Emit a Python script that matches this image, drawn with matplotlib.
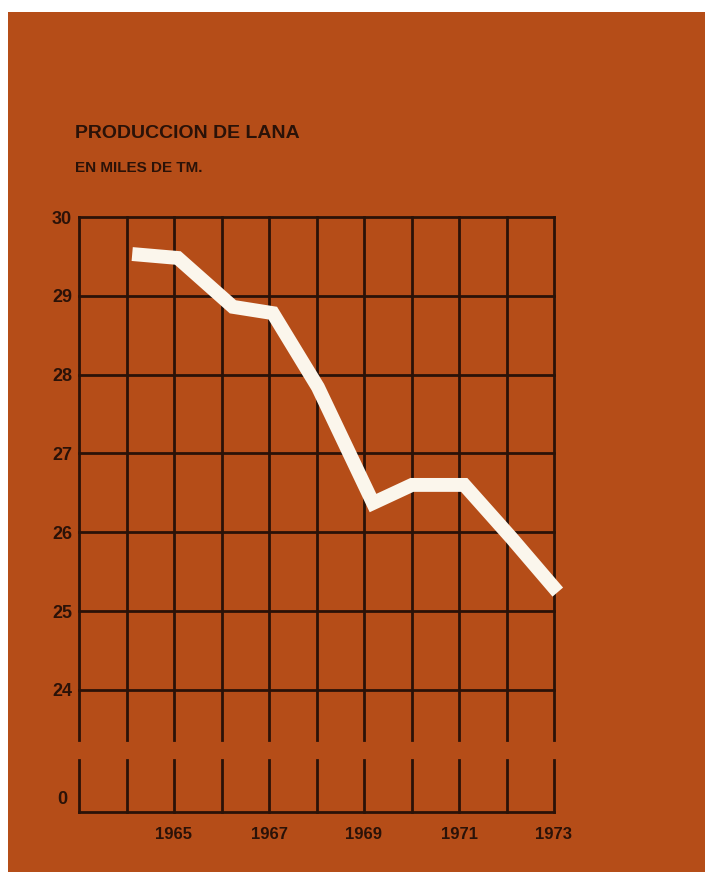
import matplotlib
matplotlib.use("Agg")
import matplotlib.pyplot as plt
from matplotlib import font_manager
from matplotlib.patches import Rectangle

# data (thousands of tonnes of wool)
years = [1964, 1965, 1966, 1967, 1968, 1969, 1970, 1971, 1972, 1973]
year_pos = [1964.12, 1965.08, 1966.24, 1967.08, 1968.03, 1969.19, 1970.01, 1971.11, 1972.1, 1973.08]
production = [29.53, 29.48, 28.86, 28.78, 27.84, 26.37, 26.60, 26.60, 25.93, 25.24]
grid_years = list(range(1963, 1974))
label_years = [1965, 1967, 1969, 1971, 1973]
upper_ticks = [24, 25, 26, 27, 28, 29, 30]

bg = "#b54d18"
ink = "#2a1208"
cream = "#fbf6ec"

names = {f.name for f in font_manager.fontManager.ttflist}
narrow = [n for n in ["Liberation Sans Narrow", "DejaVu Sans Condensed", "Liberation Sans"] if n in names]
plt.rcParams["font.family"] = narrow + ["DejaVu Sans"]
plt.rcParams["font.weight"] = "bold"

fig = plt.figure(figsize=(7.05, 8.72), dpi=100)
fig.patch.set_facecolor(bg)
W, H = 705, 872
# white paper edges at top and left
fig.patches.append(Rectangle((0, 1 - 12 / H), 1, 12 / H, transform=fig.transFigure,
                             facecolor="white", edgecolor="none"))
fig.patches.append(Rectangle((0, 0), 8 / W, 1, transform=fig.transFigure,
                             facecolor="white", edgecolor="none"))

x0, x1 = 79, 554
# upper panel: 30 .. 24 with the verticals running a bit below 24
top_px, bot_px = 217, 740
unit = 78.8
ax = fig.add_axes([x0 / W, 1 - bot_px / H, (x1 - x0) / W, (bot_px - top_px) / H])
ax.set_facecolor("none")
ax.set_xlim(1963, 1973)
ax.set_ylim(30 - (bot_px - top_px) / unit, 30)
for s in ax.spines.values():
    s.set_visible(False)
for yv in upper_ticks:
    ax.axhline(yv, color=ink, lw=2, zorder=1, clip_on=False)
for gx in grid_years:
    ax.axvline(gx, color=ink, lw=2, zorder=1, clip_on=False)
ax.plot(year_pos, production, color=cream, lw=10, solid_capstyle="butt",
        solid_joinstyle="miter", zorder=3, clip_on=False)
ax.set_yticks(upper_ticks)
ax.set_yticklabels([str(v) for v in upper_ticks], color=ink, fontsize=13, fontweight="bold")
ax.tick_params(axis="y", length=0, pad=5)
ax.set_xticks([])

# lower panel: the zero baseline after the axis break
ax2 = fig.add_axes([x0 / W, 1 - 812 / H, (x1 - x0) / W, 52 / H])
ax2.set_facecolor("none")
ax2.set_xlim(1963, 1973)
ax2.set_ylim(0, 1)
for s in ["top", "left", "right"]:
    ax2.spines[s].set_visible(False)
ax2.spines["bottom"].set_color(ink)
ax2.spines["bottom"].set_linewidth(2)
for gx in grid_years:
    ax2.axvline(gx, color=ink, lw=2, clip_on=False)
ax2.set_yticks([])
ax2.text(-0.025, 0.25, "0", transform=ax2.transAxes, ha="right", va="center",
         color=ink, fontsize=13, fontweight="bold")
ax2.set_xticks(label_years)
ax2.set_xticklabels([str(y) for y in label_years], color=ink, fontsize=12, fontweight="bold")
ax2.tick_params(axis="x", length=0, pad=11)

fig.text(75 / W, 1 - 133 / H, "PRODUCCION DE LANA", ha="left", va="center",
         color=ink, fontsize=14, fontweight="bold")
fig.text(75 / W, 1 - 168 / H, "EN MILES DE TM.", ha="left", va="center",
         color=ink, fontsize=11, fontweight="bold")

fig.savefig("out.png", dpi=100, facecolor=fig.get_facecolor())
